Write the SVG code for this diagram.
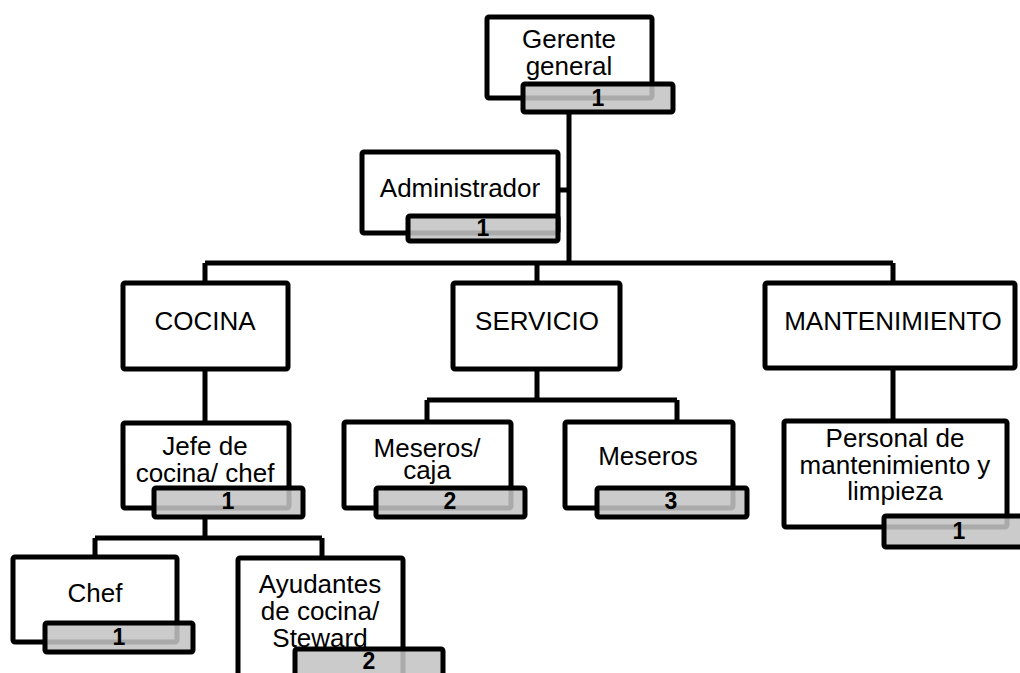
<svg xmlns="http://www.w3.org/2000/svg" width="1020" height="673" viewBox="0 0 1020 673">
<style>
.box{fill:#fff;stroke:#000;stroke-width:5;stroke-linejoin:round}
.cnt{fill:#c3c3c3;fill-opacity:0.87;stroke:#000;stroke-width:5;stroke-linejoin:round}
.lbl{font-family:"Liberation Sans",Arial,sans-serif;font-size:26px;fill:#000;text-anchor:middle}
.num{font-family:"Liberation Sans",Arial,sans-serif;font-size:23px;font-weight:bold;fill:#000;text-anchor:middle}
.con{fill:none;stroke:#000;stroke-width:5}
</style>
<rect width="1020" height="673" fill="#fff"/>
<g id="connectors" class="con">
<path d="M569 112V263M558 190H569M205 263H893M205 263V284M537 263V284M893 263V284"/>
<path d="M205 370V422M537 370V400M427 400H677M427 400V422M677 400V422M893 370V422"/>
<path d="M205 517V538M95 538H322M95 538V557M322 538V558"/>
</g>
<g id="gerente">
<rect class="box" x="487" y="17" width="165" height="81" rx="2"/>
<text class="lbl" x="569" y="48">Gerente</text>
<text class="lbl" x="569" y="75">general</text>
<rect class="cnt" x="523" y="84" width="150" height="28" rx="2"/>
<text class="num" x="598" y="106">1</text>
</g>
<g id="administrador">
<rect class="box" x="362" y="152" width="196" height="81" rx="2"/>
<text class="lbl" x="460" y="197">Administrador</text>
<rect class="cnt" x="408" y="216" width="150" height="25" rx="2"/>
<text class="num" x="483" y="236">1</text>
</g>
<g id="cocina">
<rect class="box" x="123" y="283" width="165" height="86" rx="2"/>
<text class="lbl" x="205" y="330">COCINA</text>
</g>
<g id="servicio">
<rect class="box" x="453" y="283" width="167" height="86" rx="2"/>
<text class="lbl" x="537" y="330">SERVICIO</text>
</g>
<g id="mantenimiento">
<rect class="box" x="765" y="283" width="250" height="85" rx="2"/>
<text class="lbl" x="893" y="330">MANTENIMIENTO</text>
</g>
<g id="jefe">
<rect class="box" x="123" y="423" width="166" height="85" rx="2"/>
<text class="lbl" x="205" y="455">Jefe de</text>
<text class="lbl" x="205" y="482">cocina/ chef</text>
<rect class="cnt" x="154" y="488" width="149" height="29" rx="2"/>
<text class="num" x="228" y="509">1</text>
</g>
<g id="meseros-caja">
<rect class="box" x="344" y="422" width="167" height="86" rx="2"/>
<text class="lbl" x="427" y="457">Meseros/</text>
<text class="lbl" x="427" y="479">caja</text>
<rect class="cnt" x="376" y="488" width="149" height="29" rx="2"/>
<text class="num" x="450" y="509">2</text>
</g>
<g id="meseros">
<rect class="box" x="565" y="422" width="168" height="86" rx="2"/>
<text class="lbl" x="648" y="465">Meseros</text>
<rect class="cnt" x="597" y="488" width="150" height="29" rx="2"/>
<text class="num" x="671" y="509">3</text>
</g>
<g id="personal">
<rect class="box" x="784" y="421" width="223" height="106" rx="2"/>
<text class="lbl" x="895" y="447">Personal de</text>
<text class="lbl" x="895" y="474">mantenimiento y</text>
<text class="lbl" x="895" y="500">limpieza</text>
<rect class="cnt" x="884" y="516" width="150" height="31" rx="2"/>
<text class="num" x="959" y="539">1</text>
</g>
<g id="chef">
<rect class="box" x="13" y="557" width="164" height="85" rx="2"/>
<text class="lbl" x="95" y="602">Chef</text>
<rect class="cnt" x="45" y="623" width="148" height="29" rx="2"/>
<text class="num" x="119" y="645">1</text>
</g>
<g id="ayudantes">
<rect class="box" x="238" y="558" width="165" height="130" rx="2"/>
<text class="lbl" x="320" y="593">Ayudantes</text>
<text class="lbl" x="320" y="620">de cocina/</text>
<text class="lbl" x="320" y="647">Steward</text>
<rect class="cnt" x="295" y="649" width="148" height="40" rx="2"/>
<text class="num" x="369" y="669">2</text>
</g>
</svg>
